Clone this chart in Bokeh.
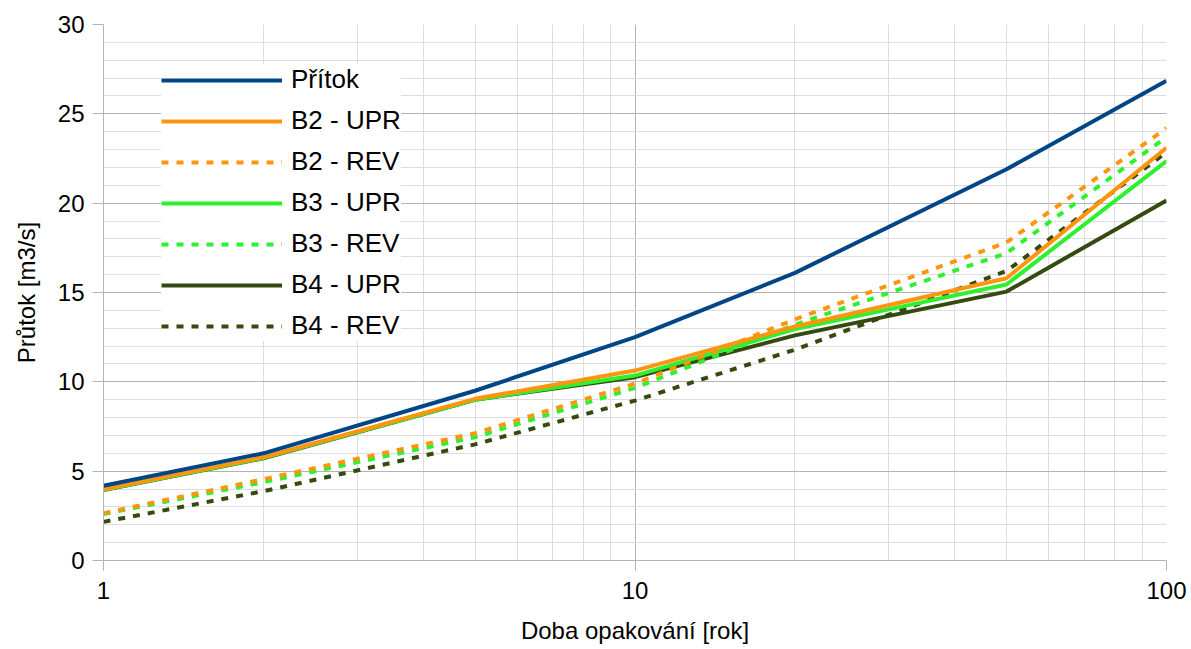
from bokeh.plotting import figure
from bokeh.models import FixedTicker, NumeralTickFormatter, Legend, LegendItem, Range1d
from bokeh.embed import file_html
from bokeh.resources import INLINE

# Data
T = [1, 2, 5, 10, 20, 50, 100]
pritok = [4.18, 6.0, 9.5, 12.5, 16.1, 21.9, 26.85]
b2_upr = [3.98, 5.78, 9.05, 10.63, 13.1, 15.8, 23.1]
b2_rev = [2.65, 4.55, 7.12, 9.9, 13.5, 17.8, 24.2]
b3_upr = [3.96, 5.74, 9.0, 10.35, 12.95, 15.45, 22.35]
b3_rev = [2.6, 4.38, 6.9, 9.66, 13.2, 17.2, 23.7]
b4_upr = [3.95, 5.72, 9.0, 10.26, 12.6, 15.05, 20.15]
b4_rev = [2.16, 3.88, 6.5, 8.95, 11.8, 16.2, 22.85]

names = ["Přítok", "B2 - UPR", "B2 - REV", "B3 - UPR", "B3 - REV", "B4 - UPR", "B4 - REV"]
series = [pritok, b2_upr, b2_rev, b3_upr, b3_rev, b4_upr, b4_rev]
colors = ["#004586", "#ff950e", "#ff950e", "#2ef02e", "#2ef02e", "#354a0f", "#354a0f"]
dashes = ["solid", "solid", "7 8", "solid", "7 8", "solid", "7 8"]

x_major = [1, 10, 100]
x_minor = [2, 3, 4, 5, 6, 7, 8, 9, 20, 30, 40, 50, 60, 70, 80, 90]
y_major = [0, 5, 10, 15, 20, 25, 30]
y_minor = list(range(0, 31))

FONT = "Liberation Sans"

p = figure(frame_width=1063, frame_height=536, x_axis_type="log",
           x_range=Range1d(1, 100), y_range=Range1d(0, 30),
           min_border_left=103, min_border_right=25, min_border_top=24, min_border_bottom=88,
           output_backend="svg", toolbar_location=None)
p.outline_line_color = None
p.background_fill_color = "white"

p.xaxis.ticker = FixedTicker(ticks=x_major, minor_ticks=x_minor)
p.xaxis.formatter = NumeralTickFormatter(format="0")
p.yaxis.ticker = FixedTicker(ticks=y_major, minor_ticks=y_minor)

for ax in (p.xaxis, p.yaxis):
    ax.axis_line_color = "#b3b3b3"
    ax.major_tick_line_color = "#b3b3b3"
    ax.minor_tick_line_color = None
    ax.major_tick_in = 0
    ax.major_label_text_font = FONT
    ax.major_label_text_font_size = "24px"
    ax.major_label_text_color = "black"
    ax.axis_label_text_font = FONT
    ax.axis_label_text_font_size = "24px"
    ax.axis_label_text_font_style = "normal"
    ax.axis_label_text_color = "black"

p.xaxis.major_tick_out = 10
p.yaxis.major_tick_out = 11
p.xaxis.major_label_standoff = 11
p.yaxis.major_label_standoff = 8
p.xaxis.axis_label = "Doba opakování [rok]"
p.yaxis.axis_label = "Průtok [m3/s]"
p.xaxis.axis_label_standoff = 15
p.yaxis.axis_label_standoff = 15

for g in (p.xgrid, p.ygrid):
    g.grid_line_color = "#b3b3b3"
    g.grid_line_width = 1
    g.minor_grid_line_color = "#dddddd"
    g.minor_grid_line_width = 1

# draw last-listed series first so that Přítok and B2 sit on top
rs = [None] * len(series)
for i in reversed(range(len(series))):
    rs[i] = p.line(T, series[i], line_color=colors[i], line_width=4, line_dash=dashes[i])

items = [LegendItem(label=n, renderers=[r]) for n, r in zip(names, rs)]

legend = Legend(items=items, location=(58, 219))
legend.label_text_font = FONT
legend.label_text_font_size = "26px"
legend.label_text_color = "black"
legend.glyph_width = 121
legend.glyph_height = 30
legend.label_height = 30
legend.spacing = 10
legend.padding = 12
legend.margin = 0
legend.label_standoff = 9
legend.border_line_color = None
legend.background_fill_color = "white"
legend.background_fill_alpha = 1.0
p.add_layout(legend, "center")

open("out.html", "w").write(file_html(p, INLINE))
